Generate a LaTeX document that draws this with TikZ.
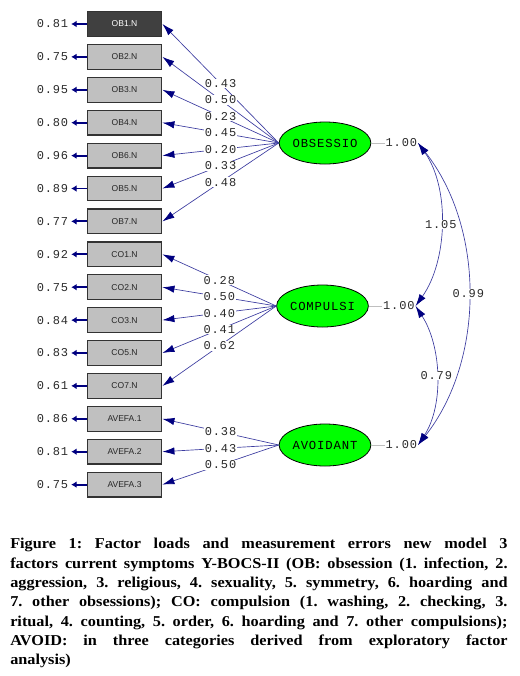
\documentclass[tikz,border=0pt]{standalone}
\usepackage{fontspec}
\usetikzlibrary{positioning,shapes.geometric,arrows.meta}
\setmainfont[FakeStretch=1.08]{Liberation Serif}
\newfontfamily\lisrelfont[LetterSpace=7]{Liberation Mono}
\newfontfamily\boxfont{Liberation Sans}
\definecolor{navy}{HTML}{000080}
\definecolor{pathblue}{HTML}{3C3CA0}
\definecolor{boxgray}{HTML}{C0C0C0}
\definecolor{boxdark}{HTML}{404040}
\definecolor{lime}{HTML}{00FF00}
\definecolor{numgray}{HTML}{2A2A2A}

\tikzset{
  indic/.style={draw=black!80,line width=0.9pt,fill=boxgray,minimum width=56pt,minimum height=18.5pt,
    inner sep=0pt,font=\boxfont\fontsize{6.4}{7}\selectfont,text=black!85},
  latent/.style={ellipse,draw=black,line width=0.6pt,fill=lime,minimum width=57pt,minimum height=31.5pt,
    inner sep=0pt,font=\lisrelfont\fontsize{9.2}{10}\selectfont},
  num/.style={font=\lisrelfont\fontsize{9}{10}\selectfont,text=numgray,inner sep=0.6pt},
  lbl/.style={num,fill=white,pos=0.5},
  load/.style={pathblue,line width=0.5pt,-{Latex[length=9pt,width=5.5pt,color=navy]}},
  err/.style={navy,line width=1.4pt,-{Latex[length=4pt,width=5pt]},shorten >=1.5pt},
  cov/.style={pathblue,line width=0.5pt,
    {Latex[length=9pt,width=5.5pt,color=navy]}-{Latex[length=9pt,width=5.5pt,color=navy]}},
  vari/.style={gray!50,line width=0.7pt},
}

\begin{document}
\begin{tikzpicture}[x=0.75pt,y=-0.75pt]
  \useasboundingbox (0,0) rectangle (520,676);

  % observed variables
  \node[indic,fill=boxdark,text=white!80] (ob1) at (124.5,24) {OB1.N};
  \foreach \n/\t [count=\i] in {ob2/OB2.N,ob3/OB3.N,ob4/OB4.N,ob6/OB6.N,ob5/OB5.N,ob7/OB7.N,
      co1/CO1.N,co2/CO2.N,co3/CO3.N,co5/CO5.N,co7/CO7.N,av1/AVEFA.1,av2/AVEFA.2,av3/AVEFA.3}
    \node[indic] (\n) at (124.5,24+32.9*\i) {\t};

  % measurement errors
  \foreach \n/\v in {ob1/0.81,ob2/0.75,ob3/0.95,ob4/0.80,ob6/0.96,ob5/0.89,ob7/0.77,
      co1/0.92,co2/0.75,co3/0.84,co5/0.83,co7/0.61,av1/0.86,av2/0.81,av3/0.75}{
    \node[num,left=13pt of \n] (e\n) {\v};
    \draw[err] (\n.west) -- (e\n.east);
  }

  % latent factors
  \node[latent] (obs) at (325,143) {OBSESSIO};
  \node[latent] (com) at (322.5,306) {COMPULSI};
  \node[latent] (avo) at (325,445) {AVOIDANT};

  % variances
  \foreach \f in {obs,com,avo}{
    \node[num,right=10pt of \f] (v\f) {1.00};
    \draw[vari] (\f.east) -- (v\f.west);
  }

  % loadings
  \foreach \n/\v in {ob1/0.43,ob2/0.50,ob3/0.23,ob4/0.45,ob6/0.20,ob5/0.33,ob7/0.48}
    \draw[load] (obs.west) -- node[lbl] {\v} (\n.east);
  \foreach \n/\v in {co1/0.28,co2/0.50,co3/0.40,co5/0.41,co7/0.62}
    \draw[load] (com.west) -- node[lbl] {\v} (\n.east);
  \foreach \n/\v in {av1/0.38,av2/0.43,av3/0.50}
    \draw[load] (avo.west) -- node[lbl] {\v} (\n.east);

  % correlations between factors
  \draw[cov] (vobs.east) .. controls +(32,45) and +(32,-45) .. node[lbl] {1.05} (vcom.east);
  \draw[cov] (vcom.east) .. controls +(26,40) and +(26,-40) .. node[lbl] {0.79} (vavo.east);
  \draw[cov] (vobs.east) .. controls +(67,85) and +(67,-85) .. node[lbl] {0.99} (vavo.east);

  % caption
  \node[anchor=north west,inner sep=0pt,text width=373pt,align=justify,
    font=\bfseries\frenchspacing\fontsize{11.3}{14.5}\selectfont] (caption) at (10,538)
    {Figure 1: Factor loads and measurement errors new model 3\linebreak
     factors current symptoms Y-BOCS-II (OB: obsession (1. infection, 2.\linebreak
     aggression, 3. religious, 4. sexuality, 5. symmetry, 6. hoarding and\linebreak
     7. other obsessions); CO: compulsion (1. washing, 2. checking, 3.\linebreak
     ritual, 4. counting, 5. order, 6. hoarding and 7. other compulsions);\linebreak
     AVOID: in three categories derived from exploratory factor\linebreak
     analysis)};
\end{tikzpicture}
\end{document}
